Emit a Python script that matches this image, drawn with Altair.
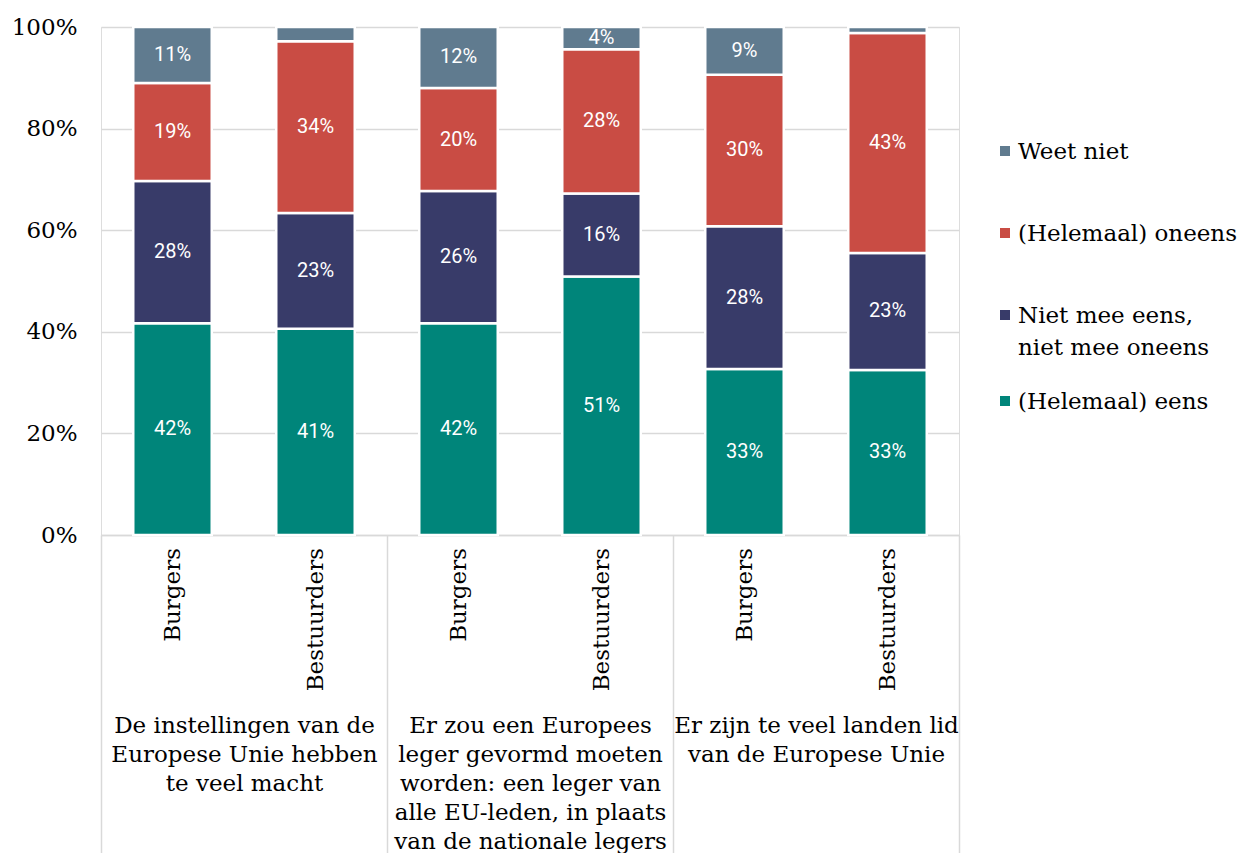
import altair as alt
import pandas as pd

# ---------------- data ----------------
groups = [
    "De instellingen van de|Europese Unie hebben|te veel macht",
    "Er zou een Europees|leger gevormd moeten|worden: een leger van|alle EU-leden, in plaats|van de nationale legers",
    "Er zijn te veel landen lid|van de Europese Unie",
]
respondents = ["Burgers", "Bestuurders"]
series = ["Weet niet", "(Helemaal) oneens", "Niet mee eens, niet mee oneens", "(Helemaal) eens"]
legend_labels = ["Weet niet", "(Helemaal) oneens", "Niet mee eens,|niet mee oneens", "(Helemaal) eens"]
colors = ["#607b8f", "#c94c44", "#383b69", "#00857a"]

# one value per bar: G1 Burgers, G1 Bestuurders, G2 Burgers, G2 Bestuurders, G3 Burgers, G3 Bestuurders
eens = [41.7, 40.6, 41.7, 50.9, 32.7, 32.5]
niet = [28.0, 22.8, 26.0, 16.3, 28.1, 23.0]
oneens = [19.3, 33.8, 20.3, 28.4, 29.8, 43.3]
weet = [11.0, 2.8, 12.0, 4.4, 9.4, 1.2]

y_ticks = [0, 20, 40, 60, 80, 100]

# ---------------- table ----------------
stack_series = [("(Helemaal) eens", eens), ("Niet mee eens, niet mee oneens", niet),
                ("(Helemaal) oneens", oneens), ("Weet niet", weet)]
rows = []
bars = []
for gi, g in enumerate(groups):
    for ri, r in enumerate(respondents):
        idx = gi * 2 + ri
        bars.append({"group": g, "resp": r})
        for order, (name, vals) in enumerate(stack_series):
            rows.append({"group": g, "resp": r, "series": name, "order": order, "value": vals[idx]})
df = pd.DataFrame(rows)
bars_df = pd.DataFrame(bars)

SERIF = "DejaVu Serif"
SANS = "Roboto"
GRID = "#d9d9d9"
W, H = 858, 508

x_enc = alt.X(
    "group:N", sort=groups,
    scale=alt.Scale(paddingInner=0, paddingOuter=0),
    axis=alt.Axis(
        title=None, labelExpr="split(datum.label, '|')", labelFont=SERIF, labelFontSize=23,
        labelColor="#000000", labelLineHeight=29, labelAngle=0, labelBaseline="top",
        labelPadding=-147, labelLimit=400, labelOverlap=False,
        domainColor=GRID, domainWidth=1.5, tickBand="extent", tickSize=326,
        tickColor=GRID, tickWidth=1.5, grid=False,
    ),
)
xoff_enc = alt.XOffset("resp:N", sort=respondents,
                       scale=alt.Scale(paddingInner=0.451, paddingOuter=0.2255))
y_scale = alt.Scale(domain=[0, 100], nice=False)
y_axis = alt.Axis(
    title=None, values=y_ticks, labelExpr="datum.value + '%'", domain=False, ticks=False,
    labelFont=SERIF, labelFontSize=23, labelColor="#000000", labelPadding=24,
    gridColor=GRID, gridWidth=1.5,
)
color_enc = alt.Color("series:N", scale=alt.Scale(domain=series, range=colors), legend=None)

base = alt.Chart(df).transform_stack(
    stack="value", groupby=["group", "resp"], as_=["y0", "y1"],
    sort=[alt.SortField("order", order="ascending")],
)

bar_layer = base.mark_bar(stroke="white", strokeWidth=2.5).encode(
    x=x_enc, xOffset=xoff_enc,
    y=alt.Y("y0:Q", scale=y_scale, axis=y_axis), y2="y1:Q",
    color=color_enc,
)

label_layer = base.transform_filter("datum.value >= 3").transform_calculate(
    mid="(datum.y0 + datum.y1) / 2", label="round(datum.value) + '%'"
).mark_text(color="white", font=SANS, fontSize=20, baseline="middle", align="center").encode(
    x=x_enc, xOffset=xoff_enc,
    y=alt.Y("mid:Q", scale=y_scale, axis=y_axis),
    text="label:N",
)

resp_layer = alt.Chart(bars_df).mark_text(
    angle=270, align="right", baseline="middle", font=SERIF, fontSize=23, color="#000000"
).encode(
    x=x_enc, xOffset=xoff_enc, y=alt.value(H + 13), text="resp:N",
)

# legend (drawn as guide marks)
LEG_X = 904
LEG_Y = [124, 206, 288, 374]
legend_layers = []
for name, lab, ly in zip(series, legend_labels, LEG_Y):
    ldf = pd.DataFrame({"series": [name], "text": [lab]})
    legend_layers.append(
        alt.Chart(ldf).mark_square(size=100, opacity=1).encode(
            x=alt.value(LEG_X), y=alt.value(ly), color=color_enc)
    )
    legend_layers.append(
        alt.Chart(ldf).mark_text(
            align="left", baseline="alphabetic", dy=8, font=SERIF, fontSize=23,
            lineBreak="|", lineHeight=32, color="#000000"
        ).encode(x=alt.value(LEG_X + 13), y=alt.value(ly), text="text:N")
    )

chart = alt.layer(bar_layer, label_layer, resp_layer, *legend_layers).properties(
    width=W, height=H,
    autosize=alt.AutoSizeParams(type="none"),
    padding={"left": 93, "top": 19, "right": 282, "bottom": 318},
).configure_view(stroke=None).configure(background="white")

chart.save("out.html", embed_options={"renderer": "svg", "actions": False})
